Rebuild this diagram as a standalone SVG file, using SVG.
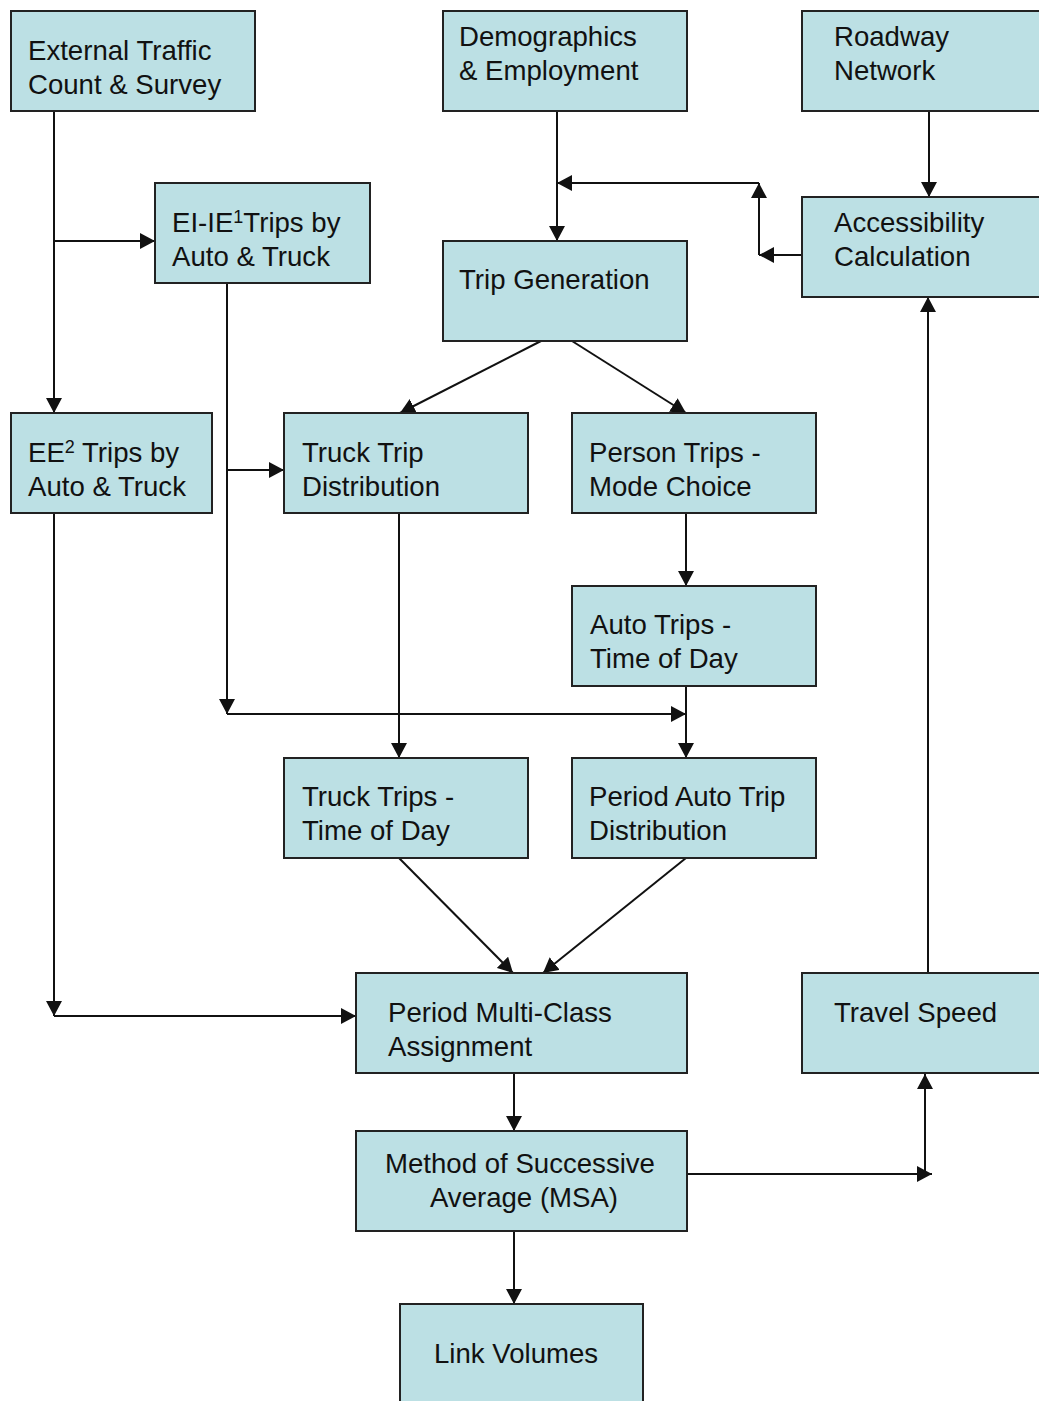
<svg xmlns="http://www.w3.org/2000/svg" width="1039" height="1401" viewBox="0 0 1039 1401">
<defs>
<style>
.box{fill:#bce0e4;stroke:#222;stroke-width:2}
.t{font-family:"Liberation Sans",Arial,sans-serif;font-size:27.6px;fill:#111}
.c{fill:none;stroke:#111;stroke-width:2;marker-end:url(#ah)}
.l{fill:none;stroke:#111;stroke-width:2}
</style>
<marker id="ah" markerUnits="userSpaceOnUse" markerWidth="15" markerHeight="16" refX="15" refY="8" orient="auto" viewBox="0 0 15 16">
<path d="M0,0 L15,8 L0,16 z" fill="#111"/>
</marker>
</defs>
<rect width="1039" height="1401" fill="#ffffff"/>
<g id="connectors">
<path class="l" d="M54,111 V241"/>
<path class="c" d="M54,241 H155"/>
<path class="c" d="M54,241 V413"/>
<path class="c" d="M557,111 V241"/>
<path class="c" d="M929,111 V197"/>
<path class="c" d="M802,255 H759"/>
<path class="c" d="M759,255 V183"/>
<path class="c" d="M759,183 H557"/>
<path class="c" d="M541,341 L400,413"/>
<path class="c" d="M572,341 L686,413"/>
<path class="l" d="M227,283 V470"/>
<path class="c" d="M227,470 H284"/>
<path class="c" d="M227,470 V714"/>
<path class="c" d="M227,714 H686"/>
<path class="c" d="M399,513 V758"/>
<path class="c" d="M686,513 V586"/>
<path class="c" d="M686,686 V758"/>
<path class="c" d="M399,858 L513,973"/>
<path class="c" d="M686,858 L543,973"/>
<path class="c" d="M54,513 V1016"/>
<path class="c" d="M54,1016 H356"/>
<path class="c" d="M514,1073 V1131"/>
<path class="c" d="M687,1174 H932"/>
<path class="c" d="M925,1174 V1074"/>
<path class="c" d="M928,973 V297"/>
<path class="c" d="M514,1231 V1304"/>
</g>
<g id="n-external"><rect class="box" x="11" y="11" width="244" height="100"/><text class="t" x="28" y="60">External Traffic</text><text class="t" x="28" y="94">Count &amp; Survey</text></g>
<g id="n-demographics"><rect class="box" x="443" y="11" width="244" height="100"/><text class="t" x="459" y="46">Demographics</text><text class="t" x="459" y="80">&amp; Employment</text></g>
<g id="n-roadway"><rect class="box" x="802" y="11" width="250" height="100"/><text class="t" x="834" y="46">Roadway</text><text class="t" x="834" y="80">Network</text></g>
<g id="n-eiie"><rect class="box" x="155" y="183" width="215" height="100"/><text class="t" x="172" y="232">EI-IE<tspan font-size="18" dy="-9">1</tspan><tspan dy="9">Trips by</tspan></text><text class="t" x="172" y="266">Auto &amp; Truck</text></g>
<g id="n-access"><rect class="box" x="802" y="197" width="250" height="100"/><text class="t" x="834" y="232">Accessibility</text><text class="t" x="834" y="266">Calculation</text></g>
<g id="n-tripgen"><rect class="box" x="443" y="241" width="244" height="100"/><text class="t" x="459" y="289">Trip Generation</text></g>
<g id="n-ee"><rect class="box" x="11" y="413" width="201" height="100"/><text class="t" x="28" y="462">EE<tspan font-size="18" dy="-9">2</tspan><tspan dy="9"> Trips by</tspan></text><text class="t" x="28" y="496">Auto &amp; Truck</text></g>
<g id="n-truckdist"><rect class="box" x="284" y="413" width="244" height="100"/><text class="t" x="302" y="462">Truck Trip</text><text class="t" x="302" y="496">Distribution</text></g>
<g id="n-person"><rect class="box" x="572" y="413" width="244" height="100"/><text class="t" x="589" y="462">Person Trips -</text><text class="t" x="589" y="496">Mode Choice</text></g>
<g id="n-autotod"><rect class="box" x="572" y="586" width="244" height="100"/><text class="t" x="590" y="634">Auto Trips -</text><text class="t" x="590" y="668">Time of Day</text></g>
<g id="n-trucktod"><rect class="box" x="284" y="758" width="244" height="100"/><text class="t" x="302" y="806">Truck Trips -</text><text class="t" x="302" y="840">Time of Day</text></g>
<g id="n-periodauto"><rect class="box" x="572" y="758" width="244" height="100"/><text class="t" x="589" y="806">Period Auto Trip</text><text class="t" x="589" y="840">Distribution</text></g>
<g id="n-multiclass"><rect class="box" x="356" y="973" width="331" height="100"/><text class="t" x="388" y="1022">Period Multi-Class</text><text class="t" x="388" y="1056">Assignment</text></g>
<g id="n-speed"><rect class="box" x="802" y="973" width="250" height="100"/><text class="t" x="834" y="1022">Travel Speed</text></g>
<g id="n-msa"><rect class="box" x="356" y="1131" width="331" height="100"/><text class="t" x="520" y="1173" text-anchor="middle">Method of Successive</text><text class="t" x="524" y="1207" text-anchor="middle">Average (MSA)</text></g>
<g id="n-link"><rect class="box" x="400" y="1304" width="243" height="110"/><text class="t" x="434" y="1363">Link Volumes</text></g>
</svg>
